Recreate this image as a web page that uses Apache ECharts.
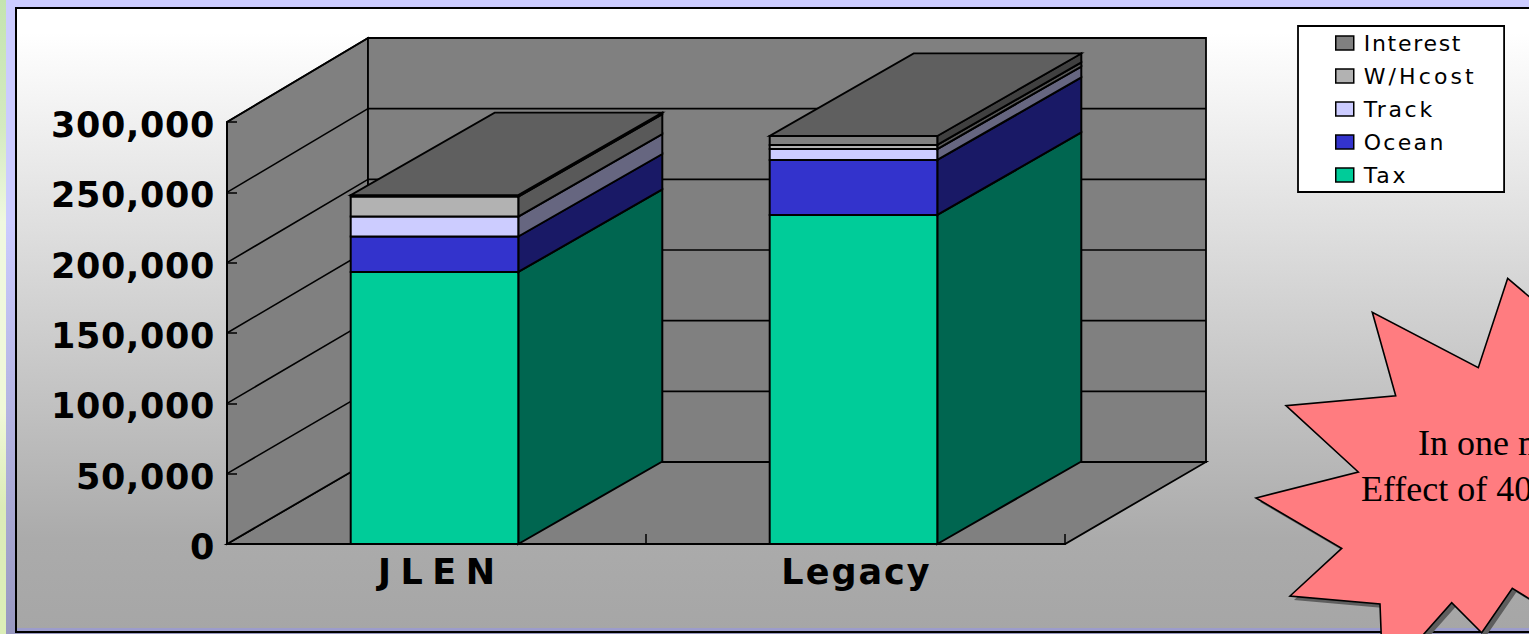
<!DOCTYPE html>
<html>
<head>
<meta charset="utf-8">
<style>html,body{margin:0;padding:0;overflow:hidden;background:#ccccff}#c{width:1529px;height:634px}</style>
<script src="https://cdn.jsdelivr.net/npm/echarts@6/dist/echarts.min.js"></script>
</head>
<body>
<div id="c"></div>
<script>
const categories = ['JLEN', 'Legacy'];
const yTicks = [0, 50000, 100000, 150000, 200000, 250000, 300000];
const tax = [193400, 233900];
const ocean = [25200, 39100];
const track = [14200, 7800];
const whcost = [14200, 2900];
const interest = [1000, 6400];
const seriesNames = ['Tax', 'Ocean', 'Track', 'W/Hcost', 'Interest'];
const seriesValues = [tax, ocean, track, whcost, interest];
const frontColors = ['#00CC99', '#3333CC', '#CCCCFF', '#B2B2B2', '#808080'];
const sideColors = ['#006650', '#191966', '#666680', '#595959', '#404040'];
const topColor = '#5F5F5F';
const wallColor = '#808080';
const WALL_DX = 141, WALL_DY = 82, BACK_SCALE = 424 / 422, BAR_DX = 144, BAR_DY = 82.5;
const BAR_RATIO = 0.4;
const letterSpacing = { 'JLEN': 9.5, 'Legacy': 2, 'Interest': 1.7, 'W/Hcost': 3.1, 'Track': 2.7, 'Ocean': 2.3, 'Tax': 2.7 };
const tickLabelSpacing = 0.65;
const starPoints = [[1507.7,278.3],[1478.3,367.7],[1372.3,312.3],[1395.7,395.7],[1286,405.7],[1358.3,472],[1256,498],[1341.7,548.3],[1290,596],[1380,604],[1383,680],[1451.7,602.7],[1481.7,632.7],[1512.3,588.3],[1580,630],[1580,340]];

const chart = echarts.init(document.getElementById('c'), null, { renderer: 'svg' });

function wallItem(params, api) {
  const cs = params.coordSys;
  const v = api.value(0);
  const y = api.coord([0, v])[1];
  const yBase = cs.y + cs.height;
  const back = (yy) => yBase - WALL_DY - (yBase - yy) * BACK_SCALE;
  const left = cs.x, right = cs.x + cs.width;
  const line = { stroke: '#000', lineWidth: 1.6 };
  const kids = [];
  if (params.dataIndex === 0) {
    const y0 = yBase, yT = cs.y;
    const poly = (pts) => ({ type: 'polygon', shape: { points: pts }, style: { fill: wallColor, stroke: '#000', lineWidth: 1.8 } });
    kids.push(poly([[left, y0], [right, y0], [right + WALL_DX, back(y0)], [left + WALL_DX, back(y0)]]));
    kids.push(poly([[left, y0], [left + WALL_DX, back(y0)], [left + WALL_DX, back(yT)], [left, yT]]));
    kids.push(poly([[left + WALL_DX, back(y0)], [right + WALL_DX, back(y0)], [right + WALL_DX, back(yT)], [left + WALL_DX, back(yT)]]));
  } else {
    kids.push({ type: 'line', shape: { x1: left, y1: y, x2: left + WALL_DX, y2: back(y) }, style: line });
    kids.push({ type: 'line', shape: { x1: left + WALL_DX, y1: back(y), x2: right + WALL_DX, y2: back(y) }, style: line });
  }
  return { type: 'group', children: kids };
}

function barRenderer(si) {
  return function (params, api) {
    const c = api.value(0);
    const a = api.coord([c, api.value(1)]);
    const b = api.coord([c, api.value(2)]);
    const w = api.size([1, 0])[0] * BAR_RATIO;
    const x0 = a[0] - w / 2 - 2, x1 = x0 + w;
    const s = { stroke: '#000', lineWidth: 2, lineJoin: 'miter' };
    const kids = [
      { type: 'polygon', shape: { points: [[x1, a[1]], [x1 + BAR_DX, a[1] - BAR_DY], [x1 + BAR_DX, b[1] - BAR_DY], [x1, b[1]]] }, style: Object.assign({ fill: sideColors[si] }, s) },
      { type: 'polygon', shape: { points: [[x0, a[1]], [x1, a[1]], [x1, b[1]], [x0, b[1]]] }, style: Object.assign({ fill: frontColors[si] }, s) }
    ];
    if (si === seriesNames.length - 1) {
      kids.push({ type: 'polygon', shape: { points: [[x0, b[1]], [x1, b[1]], [x1 + BAR_DX, b[1] - BAR_DY], [x0 + BAR_DX, b[1] - BAR_DY]] }, style: Object.assign({ fill: topColor }, s, { lineWidth: 1.8 }) });
    }
    return { type: 'group', children: kids };
  };
}

const cumulative = categories.map(() => 0);
const barSeries = seriesNames.map((name, si) => {
  const data = categories.map((_, i) => {
    const base = cumulative[i];
    cumulative[i] += seriesValues[si][i];
    return [i, base, cumulative[i]];
  });
  return {
    type: 'custom', name, z: 5 + si, animation: false, silent: true,
    itemStyle: { color: frontColors[si] },
    encode: { x: 0, y: [1, 2] },
    renderItem: barRenderer(si), data
  };
});

const vGrad = (stops) => new echarts.graphic.LinearGradient(0, 0, 0, 1, stops.map(([offset, color]) => ({ offset, color })));

chart.setOption({
  animation: false,
  grid: { left: 227, top: 122, width: 838, height: 422, containLabel: false },
  xAxis: {
    type: 'category', data: categories, z: 3,
    axisLine: { lineStyle: { color: '#000', width: 2 } },
    axisTick: { show: true, inside: true, length: 10, alignWithLabel: false, lineStyle: { color: '#000', width: 1.5 } },
    axisLabel: { color: '#000', fontFamily: 'DejaVu Sans', fontWeight: 'bold', fontSize: 35, margin: 10 }
  },
  yAxis: {
    type: 'value', min: 0, max: 300000, interval: 50000, z: 3,
    splitLine: { show: false },
    axisLine: { show: true, lineStyle: { color: '#000', width: 2 } },
    axisTick: { show: true, inside: true, length: 10, lineStyle: { color: '#000', width: 1.5 } },
    axisLabel: {
      color: '#000', margin: 12,
      formatter: (v) => '{t|' + v.toLocaleString('en-US') + '}',
      rich: { t: { color: '#000', fontFamily: 'DejaVu Sans', fontWeight: 'bold', fontSize: 35, padding: [6, 0, 0, 0] } }
    }
  },
  legend: {
    left: 1298, top: 26, orient: 'vertical',
    data: seriesNames.slice().reverse().map(name => ({ name, icon: 'rect' })),
    backgroundColor: '#fff', borderColor: '#000', borderWidth: 1.8,
    padding: [6, 49, 6, 37], itemWidth: 18, itemHeight: 14, itemGap: 11,
    itemStyle: { borderColor: '#000', borderWidth: 1.5 },
    textStyle: { color: '#000', fontFamily: 'DejaVu Sans', fontSize: 22, lineHeight: 22, padding: [0, 0, 0, 5] },
    selectedMode: false
  },
  graphic: { elements: [
    { type: 'rect', z: -10, shape: { x: 0, y: 0, width: 6, height: 634 }, style: { fill: vGrad([[0, '#C4E4B0'], [0.2, '#D4EAC0'], [0.35, '#F0F8E0'], [0.65, '#F0F8D8'], [0.8, '#DCECB8'], [1, '#DCEEB8']]) } },
    { type: 'rect', z: -10, shape: { x: 6, y: 0, width: 1523, height: 634 }, style: { fill: vGrad([[0, '#CCCCFF'], [0.35, '#CCCCFF'], [1, '#9898C0']]) } },
    { type: 'rect', z: -9, shape: { x: 16, y: 8, width: 1530, height: 624 }, style: { fill: vGrad([[0, '#FFFFFF'], [0.04, '#FFFFFF'], [0.85, '#ABABAB'], [1, '#A6A6A6']]), stroke: '#000', lineWidth: 2 } },
    { type: 'rect', z: -8, shape: { x: 17, y: 628, width: 1530, height: 3 }, style: { fill: '#9C9CCC' } },
    { type: 'polygon', z: 20, shape: { points: starPoints.map(p => [p[0] + 4, p[1] + 4]) }, style: { fill: '#5E5E5E' } },
    { type: 'polygon', z: 21, shape: { points: starPoints }, style: { fill: '#FF7C80', stroke: '#000', lineWidth: 1.6 } },
    { type: 'text', z: 22, x: 1418, y: 425, style: { text: 'In one m', fill: '#000', font: '36px "Liberation Serif"' } },
    { type: 'text', z: 22, x: 1361, y: 471, style: { text: 'Effect of 40', fill: '#000', font: '36px "Liberation Serif"' } }
  ] },
  series: [{
    type: 'custom', name: 'walls', z: 1, animation: false, silent: true,
    encode: { y: 0 },
    renderItem: wallItem,
    data: yTicks.map(v => [v])
  }].concat(barSeries)
});

function applySpacing() {
  document.querySelectorAll('#c text').forEach(t => {
    const label = t.textContent;
    const s = letterSpacing[label] || (/^[\d,]+$/.test(label) ? tickLabelSpacing : 0);
    if (s) {
      t.style.letterSpacing = s + 'px';
      if (t.getAttribute('text-anchor') === 'middle') t.setAttribute('dx', s / 2);
    }
  });
}
applySpacing();
chart.on('finished', applySpacing);
</script>
</body>
</html>
